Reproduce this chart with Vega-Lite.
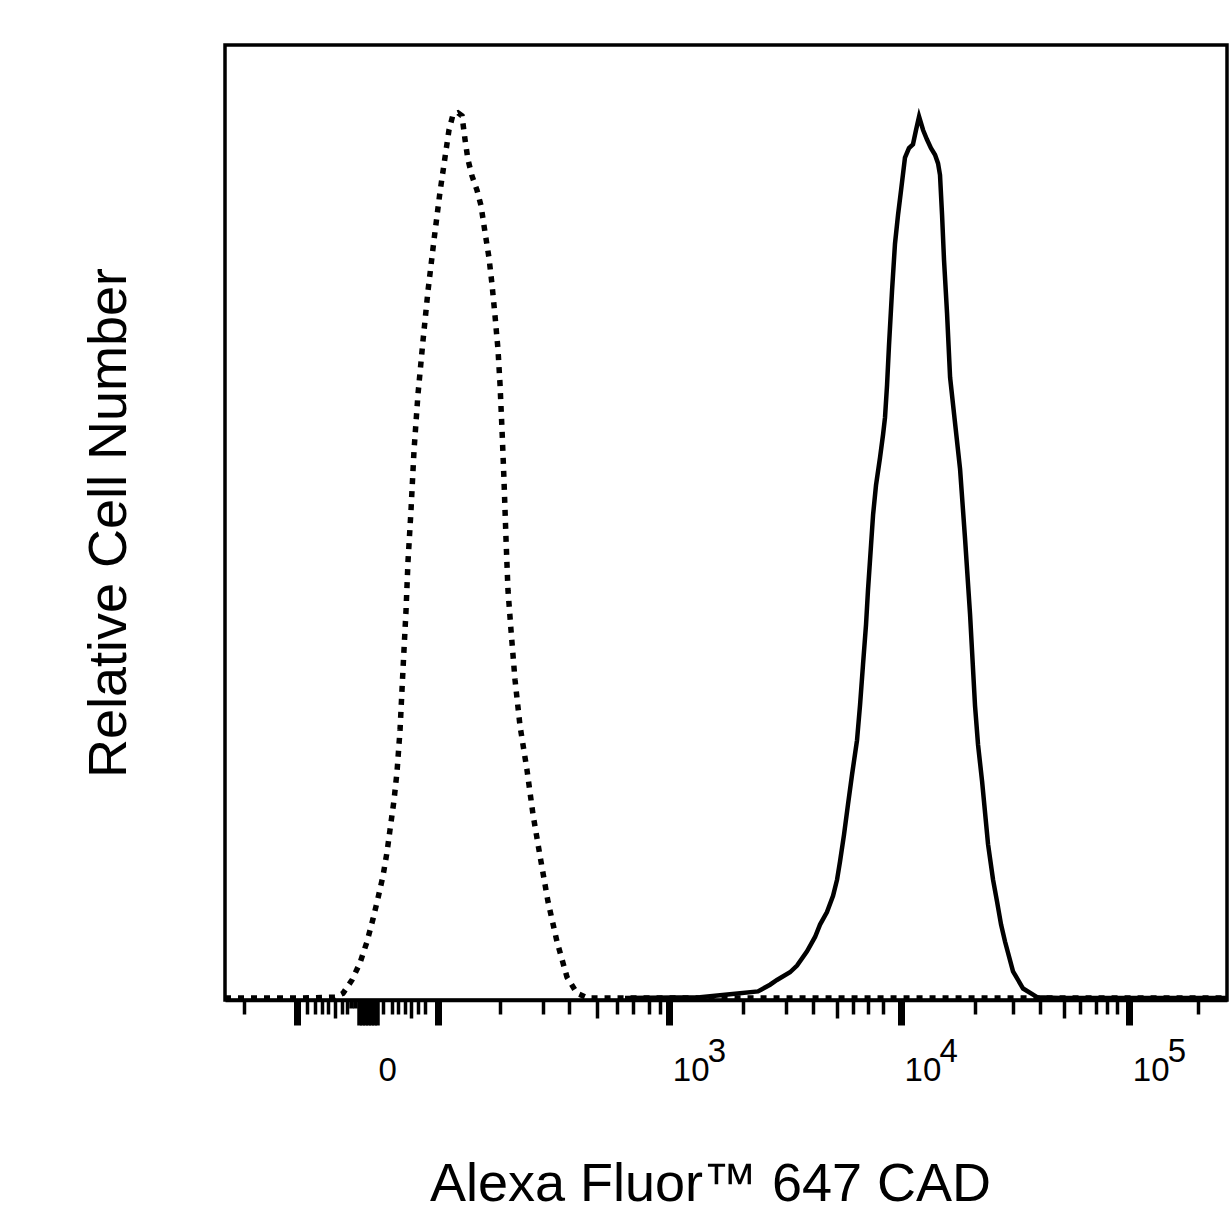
{
  "$schema": "https://vega.github.io/schema/vega-lite/v6.json",
  "width": 1002,
  "height": 955,
  "autosize": "none",
  "padding": {"left": 225, "top": 45, "right": 3, "bottom": 230},
  "background": "white",
  "config": {"view": {"stroke": "black", "strokeWidth": 3.5}, "font": "Liberation Sans"},
  "datasets": {
    "curves": [
      {"sample": "isotype", "channel": 0, "count": 0.2},
      {"sample": "isotype", "channel": 76.7, "count": 0.2},
      {"sample": "isotype", "channel": 112.4, "count": 0.3},
      {"sample": "isotype", "channel": 120.6, "count": 0.7},
      {"sample": "isotype", "channel": 129.8, "count": 2.1},
      {"sample": "isotype", "channel": 138.0, "count": 3.9},
      {"sample": "isotype", "channel": 145.1, "count": 6.1},
      {"sample": "isotype", "channel": 151.3, "count": 8.5},
      {"sample": "isotype", "channel": 156.4, "count": 10.7},
      {"sample": "isotype", "channel": 161.5, "count": 13.0},
      {"sample": "isotype", "channel": 165.6, "count": 15.5},
      {"sample": "isotype", "channel": 168.6, "count": 17.8},
      {"sample": "isotype", "channel": 172.7, "count": 20.9},
      {"sample": "isotype", "channel": 175.8, "count": 23.9},
      {"sample": "isotype", "channel": 178.9, "count": 28.3},
      {"sample": "isotype", "channel": 181.9, "count": 34.6},
      {"sample": "isotype", "channel": 185.0, "count": 40.8},
      {"sample": "isotype", "channel": 187.0, "count": 45.9},
      {"sample": "isotype", "channel": 190.1, "count": 51.3},
      {"sample": "isotype", "channel": 193.2, "count": 57.6},
      {"sample": "isotype", "channel": 197.2, "count": 63.4},
      {"sample": "isotype", "channel": 202.4, "count": 69.1},
      {"sample": "isotype", "channel": 207.5, "count": 74.3},
      {"sample": "isotype", "channel": 213.6, "count": 79.6},
      {"sample": "isotype", "channel": 219.7, "count": 84.6},
      {"sample": "isotype", "channel": 224.8, "count": 88.2},
      {"sample": "isotype", "channel": 228.9, "count": 91.1},
      {"sample": "isotype", "channel": 233.0, "count": 92.7},
      {"sample": "isotype", "channel": 238.1, "count": 92.9},
      {"sample": "isotype", "channel": 242.2, "count": 92.6},
      {"sample": "isotype", "channel": 245.3, "count": 90.1},
      {"sample": "isotype", "channel": 248.3, "count": 88.0},
      {"sample": "isotype", "channel": 252.4, "count": 86.3},
      {"sample": "isotype", "channel": 257.5, "count": 84.8},
      {"sample": "isotype", "channel": 261.6, "count": 83.2},
      {"sample": "isotype", "channel": 265.7, "count": 80.4},
      {"sample": "isotype", "channel": 269.8, "count": 77.7},
      {"sample": "isotype", "channel": 272.9, "count": 74.9},
      {"sample": "isotype", "channel": 275.9, "count": 71.7},
      {"sample": "isotype", "channel": 279.0, "count": 68.1},
      {"sample": "isotype", "channel": 281.1, "count": 64.4},
      {"sample": "isotype", "channel": 283.1, "count": 59.7},
      {"sample": "isotype", "channel": 285.1, "count": 54.5},
      {"sample": "isotype", "channel": 287.2, "count": 48.2},
      {"sample": "isotype", "channel": 289.2, "count": 42.9},
      {"sample": "isotype", "channel": 292.3, "count": 38.7},
      {"sample": "isotype", "channel": 296.4, "count": 33.5},
      {"sample": "isotype", "channel": 301.5, "count": 28.7},
      {"sample": "isotype", "channel": 308.6, "count": 24.1},
      {"sample": "isotype", "channel": 314.8, "count": 19.4},
      {"sample": "isotype", "channel": 321.9, "count": 15.1},
      {"sample": "isotype", "channel": 330.1, "count": 10.3},
      {"sample": "isotype", "channel": 339.3, "count": 6.1},
      {"sample": "isotype", "channel": 349.5, "count": 2.4},
      {"sample": "isotype", "channel": 359.7, "count": 0.7},
      {"sample": "isotype", "channel": 371.0, "count": 0.2},
      {"sample": "isotype", "channel": 1024, "count": 0.2},
      {"sample": "stained", "channel": 408.8, "count": 0.2},
      {"sample": "stained", "channel": 485.5, "count": 0.3},
      {"sample": "stained", "channel": 516.1, "count": 0.6},
      {"sample": "stained", "channel": 544.7, "count": 0.9},
      {"sample": "stained", "channel": 557.0, "count": 1.6},
      {"sample": "stained", "channel": 564.1, "count": 2.1},
      {"sample": "stained", "channel": 577.4, "count": 2.9},
      {"sample": "stained", "channel": 584.6, "count": 3.6},
      {"sample": "stained", "channel": 594.8, "count": 5.1},
      {"sample": "stained", "channel": 603.0, "count": 6.6},
      {"sample": "stained", "channel": 608.1, "count": 7.9},
      {"sample": "stained", "channel": 615.2, "count": 9.2},
      {"sample": "stained", "channel": 621.4, "count": 10.9},
      {"sample": "stained", "channel": 625.5, "count": 12.6},
      {"sample": "stained", "channel": 628.5, "count": 14.5},
      {"sample": "stained", "channel": 632.6, "count": 17.3},
      {"sample": "stained", "channel": 636.7, "count": 20.5},
      {"sample": "stained", "channel": 640.8, "count": 23.6},
      {"sample": "stained", "channel": 645.9, "count": 27.2},
      {"sample": "stained", "channel": 649.0, "count": 30.9},
      {"sample": "stained", "channel": 652.0, "count": 35.1},
      {"sample": "stained", "channel": 655.1, "count": 39.3},
      {"sample": "stained", "channel": 657.1, "count": 42.9},
      {"sample": "stained", "channel": 660.2, "count": 47.6},
      {"sample": "stained", "channel": 662.3, "count": 50.8},
      {"sample": "stained", "channel": 665.3, "count": 53.9},
      {"sample": "stained", "channel": 669.4, "count": 56.8},
      {"sample": "stained", "channel": 672.5, "count": 59.2},
      {"sample": "stained", "channel": 674.5, "count": 61.0},
      {"sample": "stained", "channel": 676.6, "count": 64.4},
      {"sample": "stained", "channel": 678.6, "count": 68.6},
      {"sample": "stained", "channel": 681.7, "count": 74.3},
      {"sample": "stained", "channel": 684.7, "count": 79.2},
      {"sample": "stained", "channel": 687.8, "count": 82.2},
      {"sample": "stained", "channel": 690.9, "count": 84.8},
      {"sample": "stained", "channel": 694.9, "count": 88.2},
      {"sample": "stained", "channel": 699.0, "count": 89.2},
      {"sample": "stained", "channel": 703.1, "count": 89.6},
      {"sample": "stained", "channel": 706.2, "count": 91.1},
      {"sample": "stained", "channel": 709.3, "count": 92.5},
      {"sample": "stained", "channel": 713.4, "count": 91.1},
      {"sample": "stained", "channel": 717.4, "count": 90.1},
      {"sample": "stained", "channel": 721.5, "count": 89.2},
      {"sample": "stained", "channel": 725.6, "count": 88.5},
      {"sample": "stained", "channel": 728.7, "count": 87.6},
      {"sample": "stained", "channel": 730.7, "count": 86.4},
      {"sample": "stained", "channel": 732.8, "count": 82.2},
      {"sample": "stained", "channel": 734.8, "count": 77.5},
      {"sample": "stained", "channel": 737.9, "count": 71.9},
      {"sample": "stained", "channel": 741.0, "count": 65.2},
      {"sample": "stained", "channel": 746.1, "count": 60.4},
      {"sample": "stained", "channel": 751.2, "count": 55.6},
      {"sample": "stained", "channel": 756.3, "count": 48.3},
      {"sample": "stained", "channel": 761.4, "count": 40.4},
      {"sample": "stained", "channel": 766.5, "count": 30.8},
      {"sample": "stained", "channel": 769.6, "count": 26.7},
      {"sample": "stained", "channel": 773.7, "count": 22.9},
      {"sample": "stained", "channel": 779.8, "count": 16.3},
      {"sample": "stained", "channel": 784.9, "count": 12.6},
      {"sample": "stained", "channel": 789.0, "count": 10.3},
      {"sample": "stained", "channel": 793.1, "count": 7.9},
      {"sample": "stained", "channel": 797.2, "count": 6.1},
      {"sample": "stained", "channel": 805.3, "count": 3.0},
      {"sample": "stained", "channel": 815.6, "count": 1.2},
      {"sample": "stained", "channel": 829.9, "count": 0.3},
      {"sample": "stained", "channel": 853.4, "count": 0.2},
      {"sample": "stained", "channel": 1024, "count": 0.2}
    ]
  },
  "data": {"name": "curves"},
  "layer": [
    {
      "transform": [{"filter": "datum.sample === 'isotype'"}],
      "mark": {"type": "line", "color": "black", "strokeWidth": 5.5, "strokeDash": [6, 7], "strokeCap": "butt"},
      "encoding": {
        "x": {
          "field": "channel",
          "type": "quantitative",
          "scale": {"domain": [0, 1024], "nice": false, "zero": false},
          "axis": {
            "orient": "bottom",
            "values": [19.4, 73.6, 83.8, 92.0, 99.1, 105.3, 112.4, 119.6, 124.7, 128.8, 132.4, 136.9, 140.0, 143.1, 146.1, 149.2, 152.3, 155.3, 161.5, 170.4, 177.1, 184.0, 189.8, 197.6, 204.4, 218.0, 281.1, 324.7, 351.9, 379.9, 400.3, 417.3, 433.3, 444.6, 454.1, 529.1, 573.3, 601.2, 625.2, 641.5, 656.8, 672.8, 690.9, 766.5, 805.0, 832.9, 857.8, 873.8, 890.2, 901.1, 911.3, 924.2, 994.1],
            "labelExpr": "datum.value === 146.1 ? '0' : (indexof([454.1, 690.9, 924.2], datum.value) >= 0 ? '10' : '')",
            "tickColor": "black",
            "tickSize": {
              "condition": [
                {"test": "indexof([73.6, 218, 454.1, 690.9, 924.2, 136.9, 140, 143.1, 146.1, 149.2, 152.3, 155.3], datum.value) >= 0", "value": 25},
                {"test": "indexof([112.4, 189.8, 379.9, 625.2, 857.8], datum.value) >= 0", "value": 18},
                {"test": "indexof([128.8, 132.4], datum.value) >= 0", "value": 8}
              ],
              "value": 14
            },
            "tickWidth": {
              "condition": [
                {"test": "indexof([73.6, 218, 454.1, 690.9, 924.2], datum.value) >= 0", "value": 7},
                {"test": "indexof([136.9, 140, 143.1, 146.1, 149.2, 152.3, 155.3, 128.8, 132.4], datum.value) >= 0", "value": 4.5}
              ],
              "value": 3.5
            },
            "domainColor": "black",
            "domainWidth": 3.5,
            "grid": false,
            "labelOverlap": false,
            "labelFlush": false,
            "labelBound": false,
            "labelAlign": "left",
            "labelBaseline": "alphabetic",
            "labelFont": "Liberation Sans",
            "labelFontSize": 33,
            "labelColor": "black",
            "labelPadding": 55,
            "labelOffset": {"condition": {"test": "datum.value === 146.1", "value": 10}, "value": 3},
            "title": "Alexa Fluor™ 647 CAD",
            "titleFont": "Liberation Sans",
            "titleFontSize": 54,
            "titleFontWeight": "normal",
            "titleColor": "black",
            "titleX": 485,
            "titleY": 200,
            "titleAlign": "center",
            "titleBaseline": "alphabetic"
          }
        },
        "y": {
          "field": "count",
          "type": "quantitative",
          "scale": {"domain": [0, 100], "nice": false, "zero": true},
          "axis": {"title": "Relative Cell Number", "ticks": false, "labels": false, "domain": false, "grid": false, "titleFont": "Liberation Sans", "titleFontSize": 54, "titleFontWeight": "normal", "titleColor": "black", "titleX": -100, "titleY": 477.5, "titleAngle": 270, "titleAlign": "center", "titleBaseline": "alphabetic"}
        }
      }
    },
    {
      "transform": [{"filter": "datum.sample === 'stained'"}],
      "mark": {"type": "line", "color": "black", "strokeWidth": 4.5},
      "encoding": {
        "x": {
          "field": "channel",
          "type": "quantitative",
          "scale": {"domain": [0, 1024], "nice": false, "zero": false},
          "axis": {
            "orient": "bottom",
            "values": [454.1, 690.9, 924.2],
            "labelExpr": "datum.value === 454.1 ? '3' : (datum.value === 690.9 ? '4' : '5')",
            "ticks": false,
            "domain": false,
            "grid": false,
            "title": null,
            "labelOverlap": false,
            "labelFlush": false,
            "labelBound": false,
            "labelAlign": "left",
            "labelBaseline": "alphabetic",
            "labelFont": "Liberation Sans",
            "labelFontSize": 33,
            "labelColor": "black",
            "labelPadding": 61,
            "labelOffset": 38
          }
        },
        "y": {
          "field": "count",
          "type": "quantitative",
          "scale": {"domain": [0, 100], "nice": false, "zero": true},
          "axis": {"title": "Relative Cell Number", "ticks": false, "labels": false, "domain": false, "grid": false, "titleFont": "Liberation Sans", "titleFontSize": 54, "titleFontWeight": "normal", "titleColor": "black", "titleX": -100, "titleY": 477.5, "titleAngle": 270, "titleAlign": "center", "titleBaseline": "alphabetic"}
        }
      }
    }
  ],
  "resolve": {"axis": {"x": "independent"}}
}
